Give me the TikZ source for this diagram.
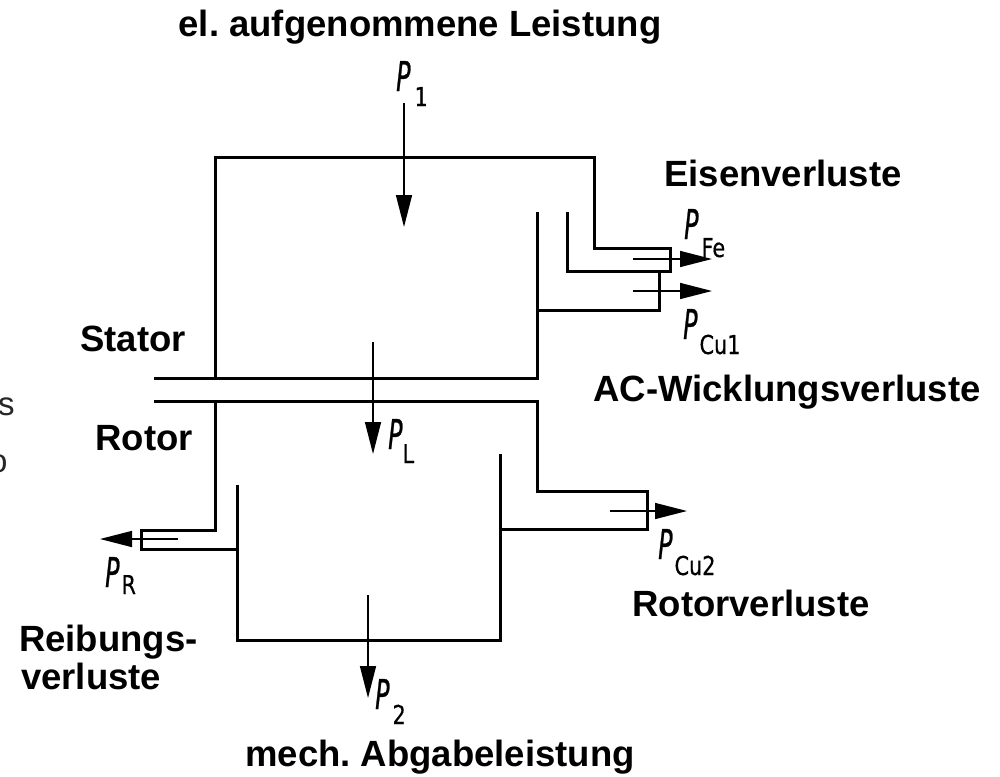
\documentclass[tikz,border=0pt]{standalone}
\usepackage{fontspec}
\setmainfont{Liberation Sans}
\newfontfamily\pfont[FakeStretch=0.58,FakeBold=0.6]{DejaVu Sans}
\newfontfamily\subfont[FakeStretch=0.8,FakeBold=0.4]{DejaVu Sans}
\usetikzlibrary{arrows.meta}
\frenchspacing
\newcommand\PPlab[3]{{\pfont\fontsize{41}{41}\selectfont\itshape P}\kern#2pt\raisebox{-#3pt}{\subfont\fontsize{26}{26}\selectfont #1}}
\tikzset{
  wall/.style={line width=3pt, line cap=rect, line join=miter},
  flow/.style={line width=1.5pt, -{Triangle[length=32pt,width=16pt]}},
  lab/.style={anchor=base, inner sep=0pt, font=\fontsize{36.5}{40}\selectfont\bfseries},
  labw/.style={anchor=base west, inner sep=0pt, font=\fontsize{36.5}{40}\selectfont\bfseries},
  plab/.style={anchor=base west, inner sep=0pt},
  frag/.style={anchor=base west, inner sep=0pt, text=black!85, font=\fontsize{33}{35}\selectfont}
}
\begin{document}
\begin{tikzpicture}[x=1pt,y=-1pt]
\useasboundingbox[fill=white] (0,0) rectangle (1000,776);

% fragments at left edge
\node[frag] (fs) at (-2,415) {s};
\node[frag] (fo) at (-11,472) {o};

% stator
\draw[wall] (215,378) -- (215,157) -- (594,157) -- (594,248) -- (670,248) -- (670,271) -- (567,271) -- (567,213);
\draw[wall] (537,213) -- (537,378) -- (155,378);
\draw[wall] (537,310) -- (659,310) -- (659,271);
% rotor
\draw[wall] (155,401) -- (537,401) -- (537,491) -- (647,491) -- (647,529) -- (500,529);
\draw[wall] (500,455) -- (500,640) -- (237,640) -- (237,486);
\draw[wall] (215,401) -- (215,530) -- (141,530) -- (141,549) -- (237,549);

% arrow coordinates
\coordinate (p1s) at (404,103); \coordinate (p1e) at (404,227);
\coordinate (pls) at (373,342); \coordinate (ple) at (373,454);
\coordinate (p2s) at (368,595); \coordinate (p2e) at (368,698);
\coordinate (fes) at (633,259); \coordinate (fee) at (712,259);
\coordinate (c1s) at (633,291); \coordinate (c1e) at (712,291);
\coordinate (c2s) at (610,511); \coordinate (c2e) at (687,511);
\coordinate (prs) at (178,539); \coordinate (pre) at (100,539);
\draw[flow] (p1s) -- (p1e);
\draw[flow] (pls) -- (ple);
\draw[flow] (p2s) -- (p2e);
\draw[flow] (fes) -- (fee);
\draw[flow] (c1s) -- (c1e);
\draw[flow] (c2s) -- (c2e);
\draw[flow] (prs) -- (pre);

% P labels
\node[plab] (lp1) at (396,91) {\PPlab{1}{4}{15}};
\node[plab] (lpfe) at (684,239) {\PPlab{Fe}{3}{18}};
\node[plab] (lpcu1) at (683,339) {\PPlab{Cu1}{2}{15}};
\node[plab] (lpl) at (388,449) {\PPlab{L}{0}{14}};
\node[plab] (lpr) at (105,587) {\PPlab{R}{2}{7}};
\node[plab] (lpcu2) at (658,559) {\PPlab{Cu2}{2}{16}};
\node[plab] (lp2) at (375,709) {\PPlab{2}{3}{15}};

% text labels
\node[lab] (title) at (420,37) {el. aufgenommene Leistung};
\node[lab] (eisen) at (783,186) {Eisenverluste};
\node[lab] (stator) at (133,351) {Stator};
\node[lab] (acw) at (787,401) {AC-Wicklungsverluste};
\node[lab] (rotor) at (144,450) {Rotor};
\node[lab] (rotv) at (751,616) {Rotorverluste};
\node[labw] (reib1) at (19,651) {Reibungs-};
\node[labw] (reib2) at (21,689) {verluste};
\node[lab] (mech) at (440,766) {mech. Abgabeleistung};
\end{tikzpicture}
\end{document}
